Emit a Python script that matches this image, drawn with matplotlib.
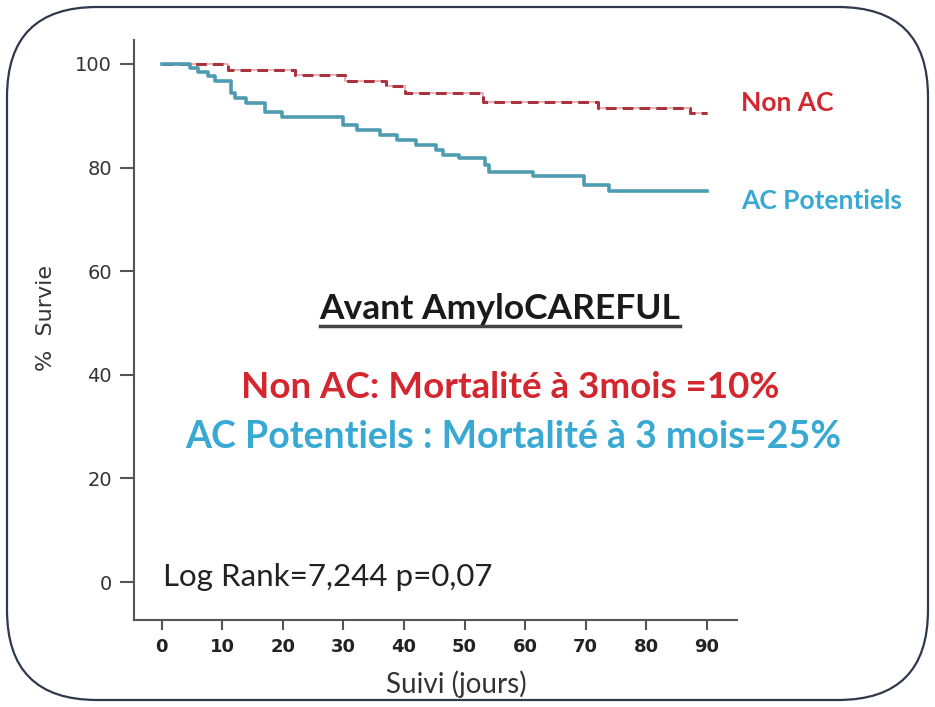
import matplotlib
matplotlib.use("Agg")
import matplotlib.pyplot as plt
from matplotlib.patches import FancyBboxPatch
from matplotlib.lines import Line2D

# ---- data ----
ac_days = [0, 4.7, 6.0, 7.6, 8.8, 11.4, 12.0, 13.9, 17.1, 19.9, 30.0, 32.2, 36.0, 38.9,
           42.0, 45.2, 46.4, 49.0, 53.4, 54.0, 61.3, 69.8, 73.9, 90]
ac_surv = [100, 99.2, 98.5, 97.6, 96.6, 94.3, 93.4, 92.4, 90.8, 89.8, 88.2, 87.3, 86.3, 85.3,
           84.4, 83.4, 82.4, 81.8, 80.5, 79.2, 78.4, 76.6, 75.5, 75.5]
non_days = [0, 11.0, 22.0, 30.3, 37.0, 40.1, 53.0, 72.0, 87.2, 90]
non_surv = [100, 98.8, 97.9, 96.6, 95.8, 94.3, 92.7, 91.4, 90.5, 90.5]
xticks = [0, 10, 20, 30, 40, 50, 60, 70, 80, 90]
yticks = [0, 20, 40, 60, 80, 100]

RED_LINE = "#a8323e"
PINK = "#e9a3a8"
BLUE_LINE = "#4d9cb2"
RED_TXT = "#d3262e"
BLUE_TXT = "#38a9d2"

fig = plt.figure(figsize=(9.35, 7.07), dpi=100)
fig.patch.set_facecolor("white")

# rounded frame
frame = FancyBboxPatch((0.07, 0.07), 9.21, 6.93, boxstyle="round,pad=0,rounding_size=0.9",
                       transform=fig.dpi_scale_trans, facecolor="none",
                       edgecolor="#2e3a4c", linewidth=1.6, zorder=10)
fig.patches.append(frame)

ax = fig.add_axes([134/935, 1-620/707, (737-134)/935, (620-40)/707])
ax.set_facecolor("none")

ax.step(non_days, non_surv, where="post", color=PINK, lw=1.2, zorder=2)
ax.step(non_days, non_surv, where="post", color=RED_LINE, lw=2.2,
        linestyle=(0, (3.5, 2)), zorder=3)
ax.step(ac_days, ac_surv, where="post", color=BLUE_LINE, lw=2.6, zorder=4)

ax.set_xlim(-4.6, 95)
ax.set_ylim(-7.3, 104.6)

for s in ["top", "right"]:
    ax.spines[s].set_visible(False)
for s in ["left", "bottom"]:
    ax.spines[s].set_color("#555555")
    ax.spines[s].set_linewidth(1.5)

ax.set_yticks(yticks)
ax.set_yticklabels([str(v) for v in yticks], fontsize=14, color="#333333",
                   family="DejaVu Sans")
ax.set_xticks(xticks)
ax.set_xticklabels([str(v) for v in xticks], fontsize=13, fontweight="bold",
                   color="#222222", family=["Liberation Sans Narrow", "DejaVu Sans"])
ax.tick_params(axis="y", length=10, width=1.5, color="#555555", pad=6)
ax.tick_params(axis="x", length=7, width=1.5, color="#555555", pad=6)

ax.set_ylabel("%  Survie", fontsize=16, color="#333333", family="DejaVu Sans")
ax.set_xlabel("Suivi (jours)", fontsize=20, color="#333333", family="Lato")
ax.xaxis.set_label_coords((456 - 134) / 603, (620 - 670) / 580)
ax.yaxis.set_label_coords((56 - 134) / 603, (620 - 318) / 580)

# annotations
fig.text(741/935, 1-103/707, "Non AC", color=RED_TXT, fontsize=19, fontweight="bold",
         family="Lato", va="center", ha="left")
fig.text(741/935, 1-201/707, "AC Potentiels", color=BLUE_TXT, fontsize=19, fontweight="bold",
         family="Lato", va="center", ha="left")

title = fig.text(500/935, 1-309/707, "Avant AmyloCAREFUL", color="#1a1a1a", fontsize=25.5,
                 fontweight="bold", family="Lato", va="center", ha="center")
fig.text(510/935, 1-388/707, "Non AC: Mortalité à 3mois =10%", color=RED_TXT, fontsize=26.5,
         fontweight="bold", family="Lato", va="center", ha="center")
fig.text(513/935, 1-437/707, "AC Potentiels : Mortalité à 3 mois=25%", color=BLUE_TXT,
         fontsize=27, fontweight="bold", family="Lato", va="center", ha="center")
fig.text(163/935, 1-577/707, "Log Rank=7,244 p=0,07", color="#222222", fontsize=22.5,
         family="Lato", va="center", ha="left")

# underline for title
fig.canvas.draw()
bb = title.get_window_extent(fig.canvas.get_renderer())
uy = bb.y0 - 1
fig.lines.append(Line2D([bb.x0 / 935, bb.x1 / 935], [uy / 707, uy / 707],
                        transform=fig.transFigure, color="#444444", lw=2.5))

fig.savefig("out.png", dpi=100)
